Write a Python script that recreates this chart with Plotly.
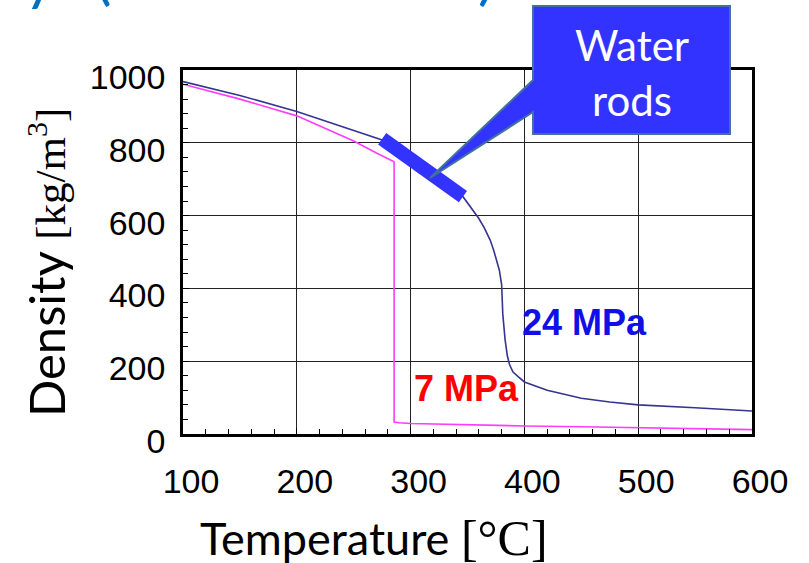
import plotly.graph_objects as go

# ---- data ----
temp_24 = [100, 150, 200, 250, 275, 300, 325, 346, 360, 365, 370, 373, 376, 378, 380, 381, 383, 385, 387, 390, 395, 400, 420, 450, 475, 500, 550, 600]
rho_24 = [968, 930, 886, 835, 808, 757, 705, 652, 592, 565, 532, 505, 475, 450, 410, 330, 260, 215, 190, 170, 156, 143, 120, 98, 88, 80, 72, 63]

temp_7 = [100, 150, 200, 250, 270, 283, 285.5, 285.5, 290, 300, 350, 400, 450, 500, 550, 600]
rho_7 = [961, 920, 874, 805, 772, 750, 748, 33, 31, 29, 25, 22, 20, 17, 15, 12]

water_rod_temp = [275, 346]
water_rod_rho = [811, 652]

x_ticks = [100, 200, 300, 400, 500, 600]
y_ticks = [0, 200, 400, 600, 800, 1000]

label_24 = "24 MPa"
label_7 = "7 MPa"
callout_text = "Water<br>rods"

# ---- figure ----
fig = go.Figure()
fig.add_trace(go.Scatter(x=temp_7, y=rho_7, mode="lines",
                         line=dict(color="#ff3cff", width=1.6), showlegend=False, hoverinfo="skip"))
fig.add_trace(go.Scatter(x=temp_24, y=rho_24, mode="lines",
                         line=dict(color="#35358f", width=1.6), showlegend=False, hoverinfo="skip"))
fig.add_trace(go.Scatter(x=water_rod_temp, y=water_rod_rho, mode="lines",
                         line=dict(color="#3333ff", width=14), showlegend=False, hoverinfo="skip"))

# plot-area geometry (px) for paper conversions
L, R, T, B = 183, 752, 70, 434
def px(x):
    return (x - L) / (R - L)
def py(y):
    return (B - y) / (B - T)

# callout
bx0, bx1, by0, by1 = px(533), px(730), py(6), py(134)
p_hi, p_lo = py(80), py(112)
tipx, tipy = px(430), py(178)
path = (f"M {bx0},{by0} L {bx1},{by0} L {bx1},{by1} L {bx0},{by1} "
        f"L {bx0},{p_lo} L {tipx},{tipy} L {bx0},{p_hi} Z")
fig.add_shape(type="path", path=path, xref="paper", yref="paper",
              fillcolor="#3333ff", line=dict(color="#41719c", width=2), layer="above")

def note(text, x, y, size, color, family="Lato", **kw):
    fig.add_annotation(text=text, xref="paper", yref="paper", x=px(x), y=py(y),
                       xanchor="center", yanchor="middle", showarrow=False,
                       font=dict(family=family, size=size, color=color), **kw)

note(callout_text, 631.5, 72, 42, "white")
note(f"<b>{label_24}</b>", 584, 322, 36, "#1010e6", family="Liberation Sans")
note(f"<b>{label_7}</b>", 466, 388, 36, "#ff0000", family="Liberation Sans")

# axis titles
note("Density <span style='font-family:Liberation Serif;font-size:43px'>[kg/m<sup>3</sup>]</span>",
     46, 263, 49, "black", textangle=-90)
note("Temperature <span style='font-family:Liberation Serif;font-size:50px'>[°C]</span>",
     374, 538, 45, "black")

# cut-off title fragments at the very top
for ch, xc in [("y", 40), ("(", 103), (")", 486)]:
    fig.add_annotation(text=ch, xref="paper", yref="paper", x=px(xc), y=py(13),
                       xanchor="center", yanchor="bottom", showarrow=False,
                       font=dict(family="Lato", size=62, color="#0070c0"))

axis_common = dict(showgrid=True, gridcolor="#222222", gridwidth=1.4,
                   showline=True, linecolor="black", linewidth=2.5, mirror=True,
                   ticks="inside", ticklen=6, tickcolor="black",
                   tickfont=dict(family="Liberation Sans", size=34, color="black"),
                   zeroline=False, automargin=False)

fig.update_xaxes(range=[100, 600], tickvals=x_ticks, ticktext=[str(v) for v in x_ticks],
                 ticklabelstandoff=15, ticklabelshift=8,
                 minor=dict(dtick=20, ticks="inside", ticklen=5, tickcolor="black", showgrid=False),
                 **axis_common)
fig.update_yaxes(range=[0, 1000], tickvals=y_ticks, ticktext=[str(v) for v in y_ticks],
                 ticklabelstandoff=8, ticklabelshift=7,
                 minor=dict(dtick=40, ticks="inside", ticklen=5, tickcolor="black", showgrid=False),
                 **axis_common)

fig.update_layout(width=809, height=563, autosize=False,
                  margin=dict(l=L, r=809 - R, t=T, b=563 - B, autoexpand=False),
                  plot_bgcolor="white", paper_bgcolor="white")

fig.write_html("out.html", config={"displayModeBar": False},
               post_script="document.body.style.margin='0';")
